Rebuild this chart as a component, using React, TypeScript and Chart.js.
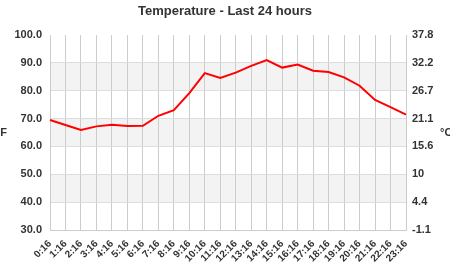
import React, { useEffect, useRef } from "react";
import { Chart, registerables } from "chart.js";

Chart.register(...registerables);

const categories = [
  "0:16", "1:16", "2:16", "3:16", "4:16", "5:16", "6:16", "7:16", "8:16", "9:16",
  "10:16", "11:16", "12:16", "13:16", "14:16", "15:16", "16:16", "17:16", "18:16",
  "19:16", "20:16", "21:16", "22:16", "23:16",
];

const temperatureF = [
  69.5, 67.7, 65.9, 67.2, 67.8, 67.3, 67.4, 71.0, 73.0, 79.1, 86.3, 84.6, 86.5,
  88.9, 91.0, 88.3, 89.4, 87.2, 86.7, 84.8, 81.8, 76.7, 74.1, 71.4,
];

const yMinF = 30;
const yMaxF = 100;
const yStepF = 10;

const titleText = "Temperature - Last 24 hours";
const leftAxisTitle = "°F";
const rightAxisTitle = "°C";

const FONT = "'Liberation Sans', Arial, sans-serif";
const TEXT = "#333333";

const toC = (f: number) => {
  const c = Math.round(((f - 32) * 5) / 9 * 10) / 10;
  return String(c);
};

const decorPlugin = {
  id: "decor",
  beforeDraw(chart: any) {
    const { ctx, chartArea } = chart;
    const y = chart.scales.y;
    ctx.save();
    ctx.fillStyle = "#f3f3f3";
    for (let v = yMinF; v < yMaxF; v += yStepF) {
      if ((v / yStepF) % 2 === 0) {
        const top = y.getPixelForValue(v + yStepF);
        const bot = y.getPixelForValue(v);
        ctx.fillRect(chartArea.left, top, chartArea.right - chartArea.left, bot - top);
      }
    }
    ctx.restore();
  },
  afterDraw(chart: any) {
    const { ctx, chartArea } = chart;
    ctx.save();
    ctx.fillStyle = TEXT;
    ctx.textBaseline = "middle";
    ctx.font = `bold 13px ${FONT}`;
    ctx.textAlign = "center";
    ctx.fillText(titleText, 225, 11);
    ctx.font = `bold 11px ${FONT}`;
    const midY = (chartArea.top + chartArea.bottom) / 2;
    ctx.textAlign = "right";
    ctx.fillText(leftAxisTitle, 7, midY);
    ctx.textAlign = "left";
    ctx.fillText(rightAxisTitle, 440, midY);
    ctx.restore();
  },
};

export default function App() {
  const canvasRef = useRef<HTMLCanvasElement | null>(null);

  useEffect(() => {
    document.body.style.margin = "0";
    const canvas = canvasRef.current;
    if (!canvas) return;
    const chart = new Chart(canvas, {
      type: "line",
      data: {
        labels: categories,
        datasets: [
          {
            data: temperatureF,
            borderColor: "#ff0000",
            borderWidth: 2,
            pointRadius: 0,
            tension: 0,
            fill: false,
          },
        ],
      },
      options: {
        animation: false,
        responsive: false,
        maintainAspectRatio: false,
        layout: { padding: { top: 35, left: 0, right: 0, bottom: 0 } },
        plugins: {
          legend: { display: false },
          title: { display: false },
          tooltip: { enabled: false },
        },
        scales: {
          x: {
            offset: false,
            grid: { color: "#cccccc", drawTicks: false, lineWidth: 1 },
            border: { color: "#cccccc" },
            ticks: {
              autoSkip: false,
              minRotation: 45,
              maxRotation: 45,
              padding: 8,
              color: TEXT,
              font: { family: FONT, size: 10, weight: "bold" },
            },
            afterFit(scale: any) {
              scale.height = 50;
            },
          },
          y: {
            position: "left",
            min: yMinF,
            max: yMaxF,
            ticks: {
              stepSize: yStepF,
              padding: 8,
              color: TEXT,
              font: { family: FONT, size: 11, weight: "bold" },
              callback: (v: any) => Number(v).toFixed(1),
            },
            grid: {
              drawTicks: false,
              color: (c: any) => (c.tick && c.tick.value === yMaxF ? "rgba(0,0,0,0)" : "#dddddd"),
            },
            border: { color: "#cccccc" },
            afterFit(scale: any) {
              scale.width = 50;
            },
          },
          y2: {
            position: "right",
            min: yMinF,
            max: yMaxF,
            ticks: {
              stepSize: yStepF,
              padding: 6,
              color: TEXT,
              font: { family: FONT, size: 11, weight: "bold" },
              callback: (v: any) => toC(Number(v)),
            },
            grid: { display: false, drawTicks: false },
            border: { display: false },
            afterFit(scale: any) {
              scale.width = 44;
            },
          },
        },
      },
      plugins: [decorPlugin],
    });
    return () => chart.destroy();
  }, []);

  return (
    <div style={{ width: 450, height: 280 }}>
      <canvas ref={canvasRef} width={450} height={280} style={{ width: 450, height: 280, display: "block" }} />
    </div>
  );
}
